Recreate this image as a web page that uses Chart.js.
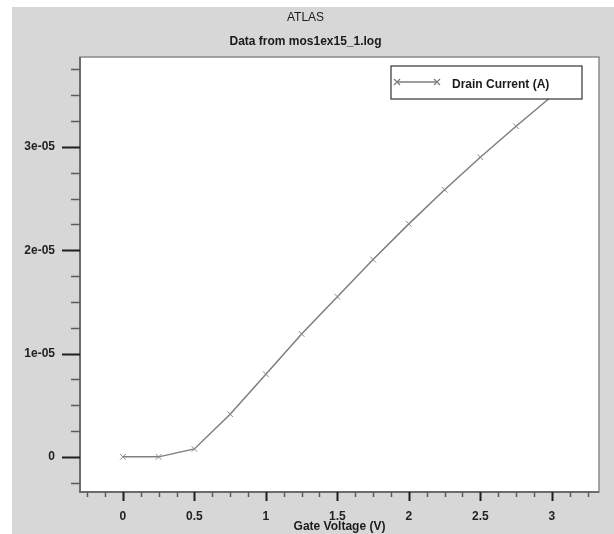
<!DOCTYPE html>
<html>
<head>
<meta charset="utf-8">
<script src="https://cdn.jsdelivr.net/npm/chart.js@4.4.1/dist/chart.umd.min.js"></script>
<style>
  html, body { margin: 0; padding: 0; background: #fff; }
  #wrap { position: absolute; left: 12px; top: 7px; width: 602px; height: 527px; background: #d7d7d7; }
</style>
</head>
<body>
<div id="wrap"><canvas id="chart" width="602" height="527"></canvas></div>
<script>
// values
const gateVoltage = [0, 0.25, 0.5, 0.75, 1, 1.25, 1.5, 1.75, 2, 2.25, 2.5, 2.75, 3];
const drainCurrent = [0, 0, 7.7e-7, 4.13e-6, 8.0e-6, 1.19e-5, 1.55e-5, 1.91e-5, 2.255e-5, 2.585e-5, 2.9e-5, 3.2e-5, 3.49e-5];
const xTickValues = [0, 0.5, 1, 1.5, 2, 2.5, 3];
const xTickLabels = ['0', '0.5', '1', '1.5', '2', '2.5', '3'];
const yTickValues = [0, 1e-5, 2e-5, 3e-5];
const yTickLabels = ['0', '1e-05', '2e-05', '3e-05'];

const FONT = "'Liberation Sans', Arial, sans-serif";

// major + minor tick lists (minor every quarter of a major step)
function makeTicks(majors, step, from, to) {
  let out = [];
  for (let i = from; i <= to; i++) {
    const v = i * step / 4;
    const major = majors.some(m => Math.abs(m - v) < step / 100);
    out.push({value: v, major: major});
  }
  return out;
}

function labelFor(value, values, labels, step) {
  for (let i = 0; i < values.length; i++) {
    if (Math.abs(values[i] - value) < step / 100) return labels[i];
  }
  return '';
}

const plotBox = {
  id: 'plotBox',
  beforeDatasetsDraw(chart) {
    const ca = chart.chartArea;
    chart.ctx.save();
    chart.ctx.fillStyle = '#fff';
    chart.ctx.fillRect(ca.left, ca.top, ca.right - ca.left, ca.bottom - ca.top);
    chart.ctx.restore();
  },
  afterDraw(chart) {
    const ctx = chart.ctx;
    const ca = chart.chartArea;
    ctx.save();
    // plot frame
    ctx.strokeStyle = '#8a8a8a';
    ctx.lineWidth = 1.5;
    ctx.strokeRect(ca.left, ca.top, ca.right - ca.left, ca.bottom - ca.top);
    // axis lines
    ctx.strokeStyle = '#6c6c6c';
    ctx.lineWidth = 2;
    ctx.beginPath();
    ctx.moveTo(ca.left, ca.top);
    ctx.lineTo(ca.left, ca.bottom);
    ctx.lineTo(ca.right, ca.bottom);
    ctx.stroke();

    const xs = chart.scales.x;
    xs.ticks.forEach(t => {
      const px = Math.round(xs.getPixelForValue(t.value)) + 0.5;
      ctx.beginPath();
      ctx.strokeStyle = t.major ? '#1e1e1e' : '#5a5a5a';
      ctx.lineWidth = t.major ? 2 : 1.5;
      ctx.moveTo(px, ca.bottom);
      ctx.lineTo(px, ca.bottom + (t.major ? 9 : 5));
      ctx.stroke();
    });
    const ys = chart.scales.y;
    ys.ticks.forEach(t => {
      const py = Math.round(ys.getPixelForValue(t.value)) + 0.5;
      ctx.beginPath();
      ctx.strokeStyle = t.major ? '#1e1e1e' : '#5a5a5a';
      ctx.lineWidth = t.major ? 2 : 1.5;
      ctx.moveTo(ca.left, py);
      ctx.lineTo(ca.left - (t.major ? 18 : 9), py);
      ctx.stroke();
    });

    // legend box in the upper right of the plot
    const ds = chart.data.datasets[0];
    const bx = ca.right - 208, by = ca.top + 9, bw = 191, bh = 33;
    ctx.fillStyle = '#fff';
    ctx.fillRect(bx, by, bw, bh);
    ctx.strokeStyle = '#333';
    ctx.lineWidth = 1.2;
    ctx.strokeRect(bx, by, bw, bh);
    ctx.strokeStyle = ds.borderColor;
    ctx.lineWidth = 1.3;
    ctx.beginPath();
    ctx.moveTo(bx + 6, by + 16);
    ctx.lineTo(bx + 46, by + 16);
    ctx.stroke();
    [bx + 6, bx + 46].forEach(cx => {
      ctx.beginPath();
      ctx.moveTo(cx - 3, by + 13); ctx.lineTo(cx + 3, by + 19);
      ctx.moveTo(cx - 3, by + 19); ctx.lineTo(cx + 3, by + 13);
      ctx.stroke();
    });
    ctx.fillStyle = '#1a1a1a';
    ctx.font = 'bold 12px ' + FONT;
    ctx.textBaseline = 'middle';
    ctx.textAlign = 'left';
    ctx.fillText(ds.label, bx + 61, by + 19);
    ctx.restore();
  }
};

const points = gateVoltage.map((v, i) => ({x: v, y: drainCurrent[i]}));

new Chart(document.getElementById('chart'), {
  type: 'scatter',
  data: {
    datasets: [{
      label: 'Drain Current (A)',
      data: points,
      showLine: true,
      borderColor: '#7e7e7e',
      borderWidth: 1.5,
      pointStyle: 'crossRot',
      pointRadius: 4,
      pointBorderColor: '#8a8a8a',
      pointBorderWidth: 1,
      tension: 0
    }]
  },
  options: {
    responsive: false,
    animation: false,
    layout: { padding: { left: 0, right: 15, top: 0, bottom: 0 } },
    plugins: {
      legend: { display: false },
      tooltip: { enabled: false },
      title: {
        display: true,
        text: 'ATLAS',
        color: '#1a1a1a',
        font: { family: FONT, size: 12, weight: 'normal' },
        padding: { top: 3, bottom: 10.4 }
      },
      subtitle: {
        display: true,
        text: 'Data from mos1ex15_1.log',
        color: '#1a1a1a',
        font: { family: FONT, size: 12, weight: 'bold' },
        padding: { top: 0, bottom: 7.8 }
      }
    },
    scales: {
      x: {
        type: 'linear',
        position: 'bottom',
        min: -0.3,
        max: 3.33,
        afterBuildTicks: s => { s.ticks = makeTicks(xTickValues, 0.5, -2, 26); },
        afterFit: s => { s.height = 42; },
        grid: { display: false, drawTicks: false, tickLength: 0 },
        border: { display: false },
        ticks: {
          autoSkip: false,
          maxRotation: 0,
          padding: 17,
          color: '#222',
          font: { family: FONT, size: 12, weight: 'bold' },
          callback: v => labelFor(v, xTickValues, xTickLabels, 0.5)
        },
        title: {
          display: true,
          text: 'Gate Voltage (V)',
          color: '#1a1a1a',
          font: { family: FONT, size: 12, weight: 'bold' },
          padding: { top: 0, bottom: 0 }
        }
      },
      y: {
        type: 'linear',
        min: -3.4e-6,
        max: 3.87e-5,
        afterBuildTicks: s => { s.ticks = makeTicks(yTickValues, 1e-5, -1, 15); },
        afterFit: s => { s.width = 68; },
        grid: { display: false, drawTicks: false, tickLength: 0 },
        border: { display: false },
        ticks: {
          autoSkip: false,
          padding: 25,
          color: '#222',
          font: { family: FONT, size: 12, weight: 'bold' },
          callback: v => labelFor(v, yTickValues, yTickLabels, 1e-5)
        }
      }
    }
  },
  plugins: [plotBox]
});
</script>
</body>
</html>
